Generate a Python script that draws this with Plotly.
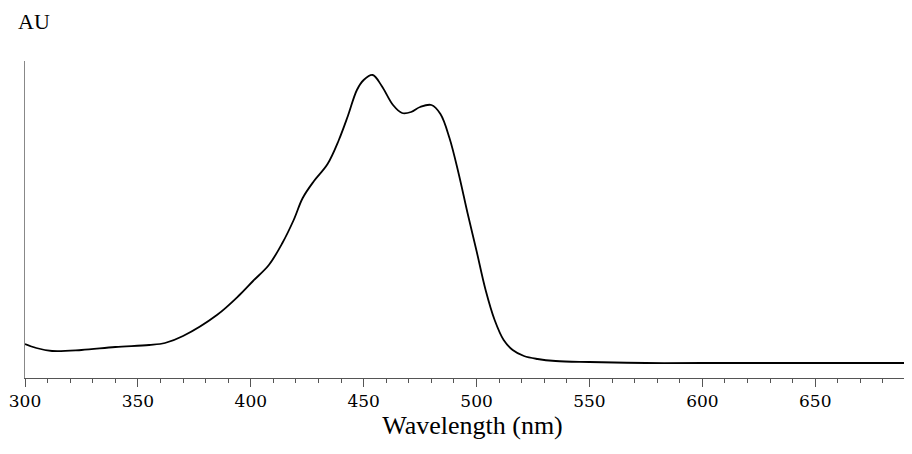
import plotly.graph_objects as go

wavelength = [300, 305, 312, 325, 340, 355, 362, 370, 385, 395, 401, 408, 414, 419, 423, 428, 434, 439, 443, 447, 450, 454, 458, 463, 467, 471, 475, 480, 484, 488, 492, 496, 500, 504, 508, 512, 516, 521, 527, 535, 550, 575, 600, 650, 696]
absorb = [34, 30, 27, 28, 31, 33, 35, 42, 63, 83, 97, 113, 135, 158, 180, 197, 214, 238, 262, 288, 298, 303, 292, 273, 265, 266, 271, 273, 264, 240, 205, 165, 127, 88, 58, 38, 28, 22, 19, 17, 16, 15, 15, 15, 15]

fig = go.Figure()
fig.add_trace(go.Scatter(x=wavelength, y=absorb, mode="lines", line=dict(color="black", width=1.8, shape="spline"), showlegend=False))

fig.update_layout(
    width=912, height=454, margin=dict(l=17, r=0, t=53, b=84),
    plot_bgcolor="white", paper_bgcolor="white",
    font=dict(family="Liberation Serif", size=22, color="black"),
)
fig.update_xaxes(range=[300, 696.4], tickvals=[300, 350, 400, 450, 500, 550, 600, 650],
                 tickfont=dict(family="DejaVu Serif, serif", size=17), automargin=False,
                 ticks="outside", ticklen=8, tickcolor="#555", showline=True, linecolor="#555",
                 minor=dict(dtick=10, ticks="outside", ticklen=4, tickcolor="#555"),
                 showgrid=False, zeroline=False,
                 title=dict(text="Wavelength (nm)", standoff=4))
fig.update_yaxes(range=[0, 317], showticklabels=False, ticks="", showline=True, linecolor="#888",
                 showgrid=False, zeroline=False)
fig.add_annotation(text="AU", xref="paper", yref="paper", x=-0.01, y=1.08, xanchor="left", yanchor="bottom",
                   showarrow=False)
fig.write_html("out.html")
